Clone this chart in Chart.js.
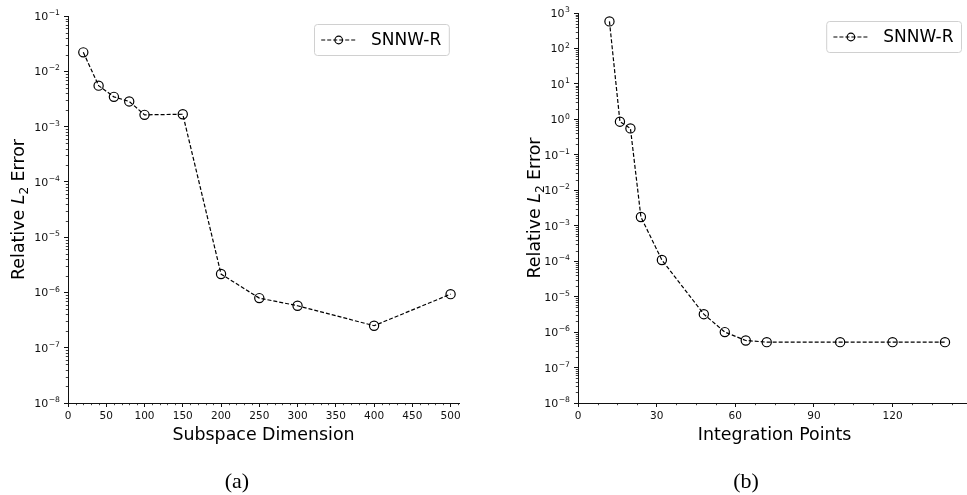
<!DOCTYPE html>
<html>
<head>
<meta charset="utf-8">
<script src="https://cdn.jsdelivr.net/npm/chart.js@4.4.1/dist/chart.umd.min.js"></script>
<style>
    body { margin: 0; width: 967px; height: 495px; overflow: hidden; background: #fff; position: relative; }
    canvas { position: absolute; top: 0; }
    #chartA { left: 0; }
    #chartB { left: 487px; }
    .caption { position: absolute; top: 469px; width: 80px; text-align: center;
               font-family: 'Liberation Serif', serif; font-size: 22px; line-height: 24px; color: #000; }
</style>
</head>
<body>
<canvas id="chartA" width="487" height="495"></canvas>
<canvas id="chartB" width="490" height="495"></canvas>
<div class="caption" style="left:197px">(a)</div>
<div class="caption" style="left:706px">(b)</div>
<script>
// --- data ---
var seriesName = 'SNNW-R';

var subspaceDim = [20, 40, 60, 80, 100, 150, 200, 250, 300, 400, 500];
var subspaceErr = [2.2e-2, 5.5e-3, 3.45e-3, 2.85e-3, 1.63e-3, 1.67e-3, 2.15e-6, 7.9e-7, 5.75e-7, 2.5e-7, 9.3e-7];

var integPoints = [12, 16, 20, 24, 32, 48, 56, 64, 72, 100, 120, 140];
var integErr = [580, 0.86, 0.556, 1.76e-3, 1.08e-4, 3.2e-6, 1.0e-6, 5.8e-7, 5.2e-7, 5.2e-7, 5.2e-7, 5.2e-7];

var xTicksA = [0, 50, 100, 150, 200, 250, 300, 350, 400, 450, 500];
var xTicksB = [0, 30, 60, 90, 120];
var decadesA = [-8, -7, -6, -5, -4, -3, -2, -1];
var decadesB = [-8, -7, -6, -5, -4, -3, -2, -1, 0, 1, 2, 3];

var INK = '#111';
var FONT = "'DejaVu Sans', sans-serif";

// power-of-ten labels, minor ticks, axis titles and the boxed legend
var decorPlugin = {
    id: 'decor',
    afterDraw: function (chart, args, opts) {
        var ctx = chart.ctx, area = chart.chartArea;
        var xs = chart.scales.x, ys = chart.scales.y;
        ctx.save();

        // y tick labels as 10 with a raised exponent
        ctx.fillStyle = INK;
        ctx.textAlign = 'left';
        ctx.textBaseline = 'alphabetic';
        ys.ticks.forEach(function (t) {
            var e = Math.round(Math.log10(t.value));
            var exp = (e < 0 ? '\u2212' : '') + Math.abs(e);
            var py = ys.getPixelForValue(t.value);
            ctx.font = '11px ' + FONT;
            var w1 = ctx.measureText('10').width;
            ctx.font = '7.7px ' + FONT;
            var w2 = ctx.measureText(exp).width;
            var x0 = area.left - 8.5 - w1 - w2;
            ctx.font = '11px ' + FONT;
            ctx.fillText('10', x0, py + 4);
            ctx.font = '7.7px ' + FONT;
            ctx.fillText(exp, x0 + w1 + 0.5, py - 0.8);
        });

        ctx.strokeStyle = INK;
        ctx.lineWidth = 0.8;
        ctx.beginPath();
        for (var v = 0; v <= xs.max + 1e-9; v += opts.xMinorStep) {
            if (opts.xTicks.indexOf(v) >= 0) continue;
            var px = Math.round(xs.getPixelForValue(v)) + 0.5;
            ctx.moveTo(px, area.bottom);
            ctx.lineTo(px, area.bottom + 2.2);
        }
        for (var i = 0; i < opts.decades.length - 1; i++) {
            for (var m = 2; m <= 9; m++) {
                var py = Math.round(ys.getPixelForValue(m * Math.pow(10, opts.decades[i]))) + 0.5;
                ctx.moveTo(area.left, py);
                ctx.lineTo(area.left - 2.2, py);
            }
        }
        ctx.stroke();

        // x title
        ctx.fillStyle = '#000';
        ctx.font = '17.4px ' + FONT;
        ctx.textAlign = 'center';
        ctx.textBaseline = 'alphabetic';
        ctx.fillText(opts.xTitle, (area.left + area.right) / 2, area.bottom + 37);

        // y title: Relative L_2 Error, rotated
        var parts = [
            { t: 'Relative ', f: '17.4px ' + FONT, dy: 0 },
            { t: 'L', f: 'italic 17.4px ' + FONT, dy: 0 },
            { t: '2', f: '12px ' + FONT, dy: 3.5 },
            { t: ' Error', f: '17.4px ' + FONT, dy: 0 }
        ];
        var total = 0;
        parts.forEach(function (p) { ctx.font = p.f; p.w = ctx.measureText(p.t).width; total += p.w; });
        ctx.translate(area.left - opts.yTitleGap, (area.top + area.bottom) / 2);
        ctx.rotate(-Math.PI / 2);
        ctx.textAlign = 'left';
        var x = -total / 2;
        parts.forEach(function (p) { ctx.font = p.f; ctx.fillText(p.t, x, p.dy); x += p.w; });
        ctx.setTransform(1, 0, 0, 1, 0, 0);

        // legend box
        var ds = chart.data.datasets[0];
        ctx.font = '17px ' + FONT;
        var tw = ctx.measureText(ds.label).width;
        var bw = 56.5 + tw + 8, bh = 31;
        var bx = area.right - 9.7 - bw, by = area.top + 8.5;
        ctx.beginPath();
        ctx.roundRect(bx, by, bw, bh, 3);
        ctx.fillStyle = 'rgba(255,255,255,0.8)';
        ctx.fill();
        ctx.strokeStyle = '#d0d0d0';
        ctx.lineWidth = 1;
        ctx.stroke();
        var cy = by + bh / 2;
        ctx.strokeStyle = '#000';
        ctx.lineWidth = ds.borderWidth;
        ctx.setLineDash(ds.borderDash);
        ctx.beginPath();
        ctx.moveTo(bx + 6.7, cy);
        ctx.lineTo(bx + 41.7, cy);
        ctx.stroke();
        ctx.setLineDash([]);
        ctx.lineWidth = 1.2;
        ctx.beginPath();
        ctx.arc(bx + 24.2, cy, 3.8, 0, Math.PI * 2);
        ctx.stroke();
        ctx.fillStyle = '#000';
        ctx.textBaseline = 'middle';
        ctx.fillText(ds.label, bx + 56.5, cy + 1);
        ctx.restore();
    }
};

function makeChart(id, xs, ys, xMax, xTicks, xMinorStep, decades, xTitle, frame) {
    var canvas = document.getElementById(id);
    var W = canvas.width, H = canvas.height;
    return new Chart(canvas.getContext('2d'), {
        type: 'scatter',
        data: {
            datasets: [{
                label: seriesName,
                data: xs.map(function (x, i) { return { x: x, y: ys[i] }; }),
                showLine: true,
                borderColor: '#000',
                borderWidth: 1.2,
                borderDash: [4, 2],
                pointStyle: 'circle',
                pointRadius: 4.6,
                pointBorderWidth: 1.2,
                pointBorderColor: '#000',
                pointBackgroundColor: 'rgba(0,0,0,0)'
            }]
        },
        options: {
            responsive: false,
            animation: false,
            devicePixelRatio: 1,
            layout: { padding: { left: 0, top: frame.top, right: W - frame.right, bottom: 0 } },
            scales: {
                x: {
                    type: 'linear',
                    min: 0,
                    max: xMax,
                    afterBuildTicks: function (s) { s.ticks = xTicks.map(function (v) { return { value: v }; }); },
                    afterFit: function (s) { s.height = H - frame.bottom; },
                    grid: { drawOnChartArea: false, drawTicks: true, tickLength: 4, color: INK, tickWidth: 1 },
                    border: { display: true, color: INK, width: 1 },
                    ticks: { color: INK, font: { family: FONT, size: 10.5 }, padding: 3, maxRotation: 0, autoSkip: false }
                },
                y: {
                    type: 'logarithmic',
                    min: Math.pow(10, decades[0]),
                    max: Math.pow(10, decades[decades.length - 1]),
                    afterBuildTicks: function (s) { s.ticks = decades.map(function (e) { return { value: Math.pow(10, e) }; }); },
                    afterFit: function (s) { s.width = frame.left; },
                    grid: { drawOnChartArea: false, drawTicks: true, tickLength: 4, color: INK, tickWidth: 1 },
                    border: { display: true, color: INK, width: 1 },
                    ticks: { display: false }
                }
            },
            plugins: {
                legend: { display: false },
                tooltip: { enabled: false },
                decor: { xTicks: xTicks, xMinorStep: xMinorStep, decades: decades, xTitle: xTitle, yTitleGap: frame.yTitleGap }
            }
        },
        plugins: [decorPlugin]
    });
}

makeChart('chartA', subspaceDim, subspaceErr, 511, xTicksA, 10, decadesA, 'Subspace Dimension',
    { left: 68, right: 459, top: 16, bottom: 403, yTitleGap: 43.7 });
makeChart('chartB', integPoints, integErr, 150, xTicksB, 7.5, decadesB, 'Integration Points',
    { left: 91, right: 485, top: 13, bottom: 403, yTitleGap: 37.8 });
</script>
</body>
</html>
